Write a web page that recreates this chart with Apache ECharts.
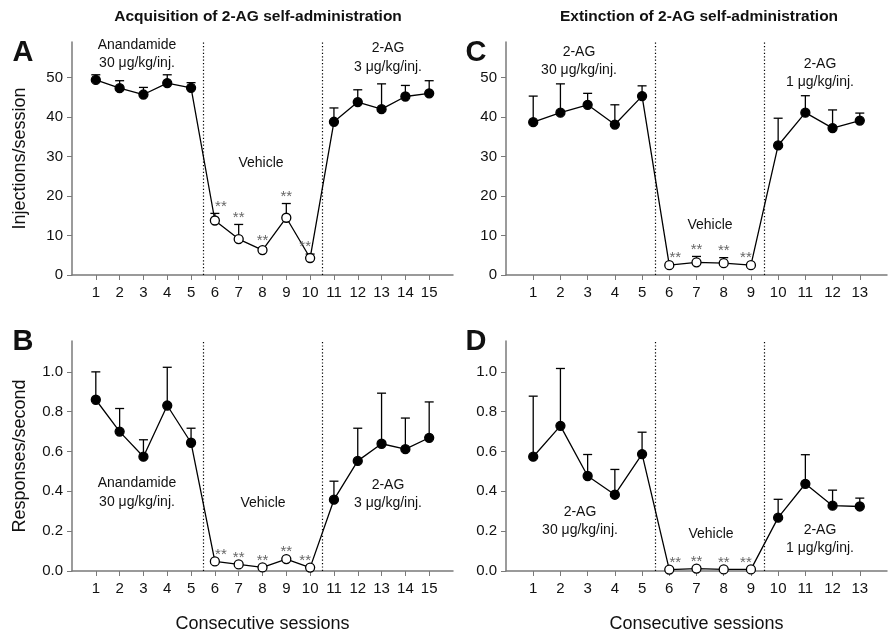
<!DOCTYPE html>
<html>
<head>
<meta charset="utf-8">
<script src="https://cdn.jsdelivr.net/npm/echarts@6/dist/echarts.min.js"></script>
<style>
  html, body { margin: 0; padding: 0; background: #fff; }
  #main { width: 888px; height: 634px; }
</style>
</head>
<body>
<div id="main"></div>
<script>
// sessions
const sessionsAcq = [1, 2, 3, 4, 5, 6, 7, 8, 9, 10, 11, 12, 13, 14, 15];
const sessionsExt = [1, 2, 3, 4, 5, 6, 7, 8, 9, 10, 11, 12, 13];
const vehicleAcq = [6, 7, 8, 9, 10];
const vehicleExt = [6, 7, 8, 9];

// A: injections/session, acquisition
const injAcq = [49.4, 47.3, 45.7, 48.6, 47.4, 13.8, 9.1, 6.3, 14.5, 4.3, 38.8, 43.8, 42.0, 45.2, 46.0];
const injAcqSem = [1.3, 1.9, 1.8, 2.1, 1.3, 1.8, 3.7, 0.6, 3.6, 1.0, 3.5, 3.1, 6.4, 2.8, 3.2];
// B: responses/second, acquisition
const rateAcq = [0.86, 0.70, 0.574, 0.831, 0.644, 0.048, 0.033, 0.018, 0.06, 0.017, 0.358, 0.553, 0.639, 0.612, 0.669];
const rateAcqSem = [0.14, 0.116, 0.085, 0.192, 0.073, 0, 0, 0, 0, 0, 0.093, 0.164, 0.254, 0.156, 0.18];
// C: injections/session, extinction
const injExt = [38.7, 41.1, 43.1, 38.1, 45.3, 2.5, 3.2, 3.0, 2.5, 32.8, 41.1, 37.2, 39.1];
const injExtSem = [6.6, 7.3, 2.9, 5.0, 2.6, 0, 1.5, 1.4, 0, 6.9, 4.3, 4.6, 1.9];
// D: responses/second, extinction
const rateExt = [0.574, 0.729, 0.477, 0.383, 0.587, 0.007, 0.012, 0.008, 0.008, 0.268, 0.438, 0.328, 0.324];
const rateExtSem = [0.304, 0.288, 0.108, 0.127, 0.11, 0, 0, 0, 0, 0.092, 0.146, 0.078, 0.042];

// phase boundaries
const phaseLinesAcq = [5.5, 10.5];
const phaseLinesExt = [5.5, 9.5];

const injTicks = [0, 10, 20, 30, 40, 50];
const rateTicks = [0, 0.2, 0.4, 0.6, 0.8, 1.0];

const FONT = "'Liberation Sans', Arial, sans-serif";
const AXIS_GRAY = '#7a7a7a';
const STAR_GRAY = '#666';

const chart = echarts.init(document.getElementById('main'));

function xAxisFor(grid, sessions, max, withName) {
    const ax = {
        type: 'value', gridIndex: grid, min: 0, max: max, interval: 1,
        axisLine: { lineStyle: { color: AXIS_GRAY, width: 1.5 } },
        axisTick: { show: true, length: 5, customValues: sessions, lineStyle: { color: AXIS_GRAY, width: 1 } },
        axisLabel: { customValues: sessions, color: '#111', fontFamily: FONT, fontSize: 15, margin: 10 },
        splitLine: { show: false }
    };
    if (withName) {
        ax.name = 'Consecutive sessions';
        ax.nameLocation = 'middle';
        ax.nameGap = 44;
        ax.nameTextStyle = { color: '#111', fontFamily: FONT, fontSize: 18 };
    }
    return ax;
}

function yAxisFor(grid, ticks, max, digits, name) {
    const ax = {
        type: 'value', gridIndex: grid, min: 0, max: max,
        axisLine: { show: true, lineStyle: { color: AXIS_GRAY, width: 1.5 } },
        axisTick: { show: true, length: 5, customValues: ticks, lineStyle: { color: AXIS_GRAY, width: 1 } },
        axisLabel: {
            customValues: ticks, color: '#111', fontFamily: FONT, fontSize: 15, margin: 9,
            formatter: v => v.toFixed(digits)
        },
        splitLine: { show: false }
    };
    if (name) {
        ax.name = name;
        ax.nameLocation = 'middle';
        ax.nameGap = 43;
        ax.nameTextStyle = { color: '#111', fontFamily: FONT, fontSize: 18 };
    }
    return ax;
}

function errorSeries(idx, sessions, means, sems) {
    return {
        type: 'custom', xAxisIndex: idx, yAxisIndex: idx, z: 2,
        data: sessions.map((s, i) => [s, means[i], means[i] + sems[i]]),
        renderItem: (params, api) => {
            const p = api.coord([api.value(0), api.value(1)]);
            const top = api.coord([api.value(0), api.value(2)]);
            if (p[1] - top[1] < 1) return null;
            const style = { stroke: '#000', lineWidth: 1.3 };
            return {
                type: 'group',
                children: [
                    { type: 'line', shape: { x1: p[0], y1: p[1], x2: top[0], y2: top[1] }, style },
                    { type: 'line', shape: { x1: top[0] - 4.5, y1: top[1], x2: top[0] + 4.5, y2: top[1] }, style }
                ]
            };
        }
    };
}

function lineSeries(idx, sessions, means, vehicle, phaseLines) {
    return {
        type: 'line', xAxisIndex: idx, yAxisIndex: idx, z: 3,
        symbol: 'circle', symbolSize: 9,
        lineStyle: { color: '#000', width: 1.3 },
        data: sessions.map((s, i) => {
            const open = vehicle.indexOf(s) >= 0;
            return {
                value: [s, means[i]],
                itemStyle: { color: open ? '#fff' : '#000', borderColor: '#000', borderWidth: 1.3 }
            };
        }),
        markLine: {
            silent: true, symbol: 'none', label: { show: false },
            lineStyle: { color: '#000', type: [1.2, 2.2], width: 1.2 },
            data: phaseLines.map(v => ({ xAxis: v }))
        }
    };
}

// significance stars over vehicle sessions
function starSeries(idx, sessions, means, sems, vehicle) {
    const first = vehicle[0], last = vehicle[vehicle.length - 1];
    return {
        type: 'custom', xAxisIndex: idx, yAxisIndex: idx, z: 4,
        data: sessions.map((s, i) => [s, means[i] + sems[i]]).filter(d => vehicle.indexOf(d[0]) >= 0),
        renderItem: (params, api) => {
            const s = api.value(0);
            const p = api.coord([s, api.value(1)]);
            const dx = s === first ? 6 : (s === last ? -5 : 0);
            return {
                type: 'text',
                style: {
                    x: p[0] + dx, y: p[1] - 7,
                    text: '**', fill: STAR_GRAY, fontFamily: FONT, fontSize: 15,
                    align: 'center', verticalAlign: 'middle'
                }
            };
        }
    };
}

function txt(x, y, text, size, bold) {
    return {
        type: 'text', x: x, y: y,
        style: {
            text: text, fill: '#111', fontFamily: FONT, fontSize: size || 14,
            fontWeight: bold ? 'bold' : 'normal', align: 'center', verticalAlign: 'middle'
        }
    };
}

const option = {
    animation: false,
    backgroundColor: '#fff',
    grid: [
        { left: 72, top: 42, width: 381, height: 233 },   // A
        { left: 72, top: 341, width: 381, height: 230 },  // B
        { left: 506, top: 42, width: 381, height: 233 },  // C
        { left: 506, top: 341, width: 381, height: 230 }  // D
    ],
    xAxis: [
        xAxisFor(0, sessionsAcq, 16, false),
        xAxisFor(1, sessionsAcq, 16, true),
        xAxisFor(2, sessionsExt, 14, false),
        xAxisFor(3, sessionsExt, 14, true)
    ],
    yAxis: [
        yAxisFor(0, injTicks, 59, 0, 'Injections/session'),
        yAxisFor(1, rateTicks, 1.155, 1, 'Responses/second'),
        yAxisFor(2, injTicks, 59, 0, null),
        yAxisFor(3, rateTicks, 1.155, 1, null)
    ],
    series: [
        errorSeries(0, sessionsAcq, injAcq, injAcqSem),
        lineSeries(0, sessionsAcq, injAcq, vehicleAcq, phaseLinesAcq),
        starSeries(0, sessionsAcq, injAcq, injAcqSem, vehicleAcq),
        errorSeries(1, sessionsAcq, rateAcq, rateAcqSem),
        lineSeries(1, sessionsAcq, rateAcq, vehicleAcq, phaseLinesAcq),
        starSeries(1, sessionsAcq, rateAcq, rateAcqSem, vehicleAcq),
        errorSeries(2, sessionsExt, injExt, injExtSem),
        lineSeries(2, sessionsExt, injExt, vehicleExt, phaseLinesExt),
        starSeries(2, sessionsExt, injExt, injExtSem, vehicleExt),
        errorSeries(3, sessionsExt, rateExt, rateExtSem),
        lineSeries(3, sessionsExt, rateExt, vehicleExt, phaseLinesExt),
        starSeries(3, sessionsExt, rateExt, rateExtSem, vehicleExt)
    ],
    graphic: [
        txt(258, 17, 'Acquisition of 2-AG self-administration', 15.5, true),
        txt(699, 17, 'Extinction of 2-AG self-administration', 15.5, true),
        txt(23, 53, 'A', 29, true),
        txt(476, 53, 'C', 29, true),
        txt(23, 342, 'B', 29, true),
        txt(476, 342, 'D', 29, true),
        // A
        txt(137, 45, 'Anandamide'), txt(137, 63, '30 μg/kg/inj.'),
        txt(261, 163, 'Vehicle'),
        txt(388, 48, '2-AG'), txt(388, 67, '3 μg/kg/inj.'),
        // C
        txt(579, 52, '2-AG'), txt(579, 70, '30 μg/kg/inj.'),
        txt(710, 225, 'Vehicle'),
        txt(820, 64, '2-AG'), txt(820, 82, '1 μg/kg/inj.'),
        // B
        txt(137, 483, 'Anandamide'), txt(137, 502, '30 μg/kg/inj.'),
        txt(263, 503, 'Vehicle'),
        txt(388, 485, '2-AG'), txt(388, 503, '3 μg/kg/inj.'),
        // D
        txt(580, 512, '2-AG'), txt(580, 530, '30 μg/kg/inj.'),
        txt(711, 534, 'Vehicle'),
        txt(820, 530, '2-AG'), txt(820, 548, '1 μg/kg/inj.')
    ]
};

chart.setOption(option);
</script>
</body>
</html>
